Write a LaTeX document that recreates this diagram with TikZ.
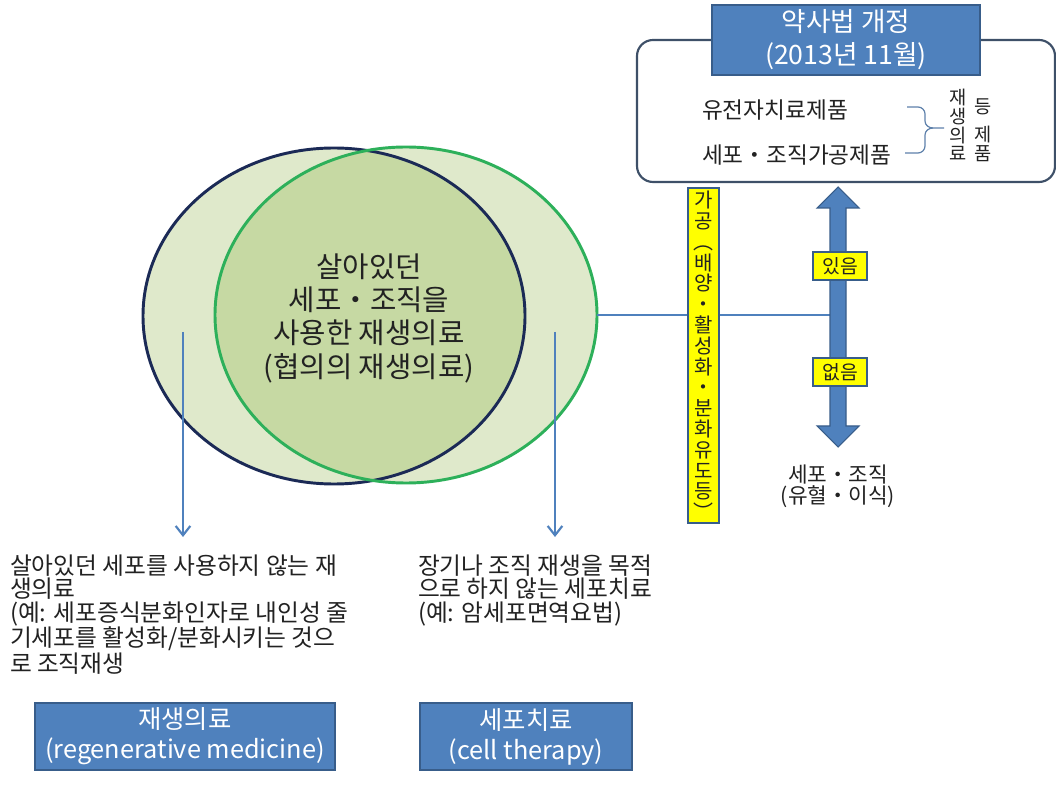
\documentclass[tikz,border=0pt]{standalone}
\usepackage{fontspec}
\setmainfont{Noto Sans CJK KR}
\usetikzlibrary{arrows.meta,shapes.geometric}
\definecolor{ofblue}{HTML}{4F81BD}
\definecolor{ofblueD}{HTML}{385D8A}
\definecolor{navy}{HTML}{1B2A56}
\definecolor{grn}{HTML}{2DB05A}
\definecolor{lfill}{HTML}{DFE9CB}
\definecolor{dfill}{HTML}{C6D9A3}
\definecolor{frame}{HTML}{3E5068}
\definecolor{yel}{HTML}{FFFF00}
\definecolor{txt}{HTML}{222222}
\begin{document}
\begin{tikzpicture}[x=0.75pt,y=-0.75pt,
  bluebox/.style={draw=ofblueD,line width=1pt,fill=ofblue,text=white,align=center,inner sep=0pt,outer sep=0pt},
  yelbox/.style={draw=ofblueD,line width=1pt,fill=yel,text=txt,inner sep=0pt,outer sep=0pt,align=center},
  plain/.style={text=txt,inner sep=0pt,outer sep=0pt},
  conn/.style={draw=ofblue,line width=2.2pt},
  downarr/.style={draw=ofblue,line width=1.6pt,-{Straight Barb[length=7pt,width=11pt,line width=1.6pt]}},
  brace/.style={draw=ofblue!70!gray,line width=0.9pt}
]
\useasboundingbox (0,0) rectangle (1056,787);
\fill[white] (0,0) rectangle (1056,787);

% ellipses
\fill[lfill] (334,316) ellipse [x radius=143.25pt, y radius=126pt];
\fill[lfill] (406,315) ellipse [x radius=143.25pt, y radius=126pt];
\begin{scope}
  \clip (334,316) ellipse [x radius=143.25pt, y radius=126pt];
  \fill[dfill] (406,315) ellipse [x radius=143.25pt, y radius=126pt];
\end{scope}
\node[ellipse,draw=navy,line width=2.2pt,minimum width=286.5pt,minimum height=252pt,inner sep=0pt,outer sep=0pt] (nE) at (334,316) {};
\node[ellipse,draw=grn,line width=2.2pt,minimum width=286.5pt,minimum height=252pt,inner sep=0pt,outer sep=0pt] (gE) at (406,315) {};

\node[plain,align=center,font=\fontsize{21.5pt}{25pt}\selectfont] (ctext) at (369,318)
  {살아있던\\세포・조직을\\사용한 재생의료\\(협의의 재생의료)};

% down arrows
\coordinate (a1s) at (183,332);
\coordinate (a1e) at (183,537);
\coordinate (a2s) at (555,332);
\coordinate (a2e) at (555,537);
\draw[downarr] (a1s) -- (a1e);
\draw[downarr] (a2s) -- (a2e);

% double arrow
\coordinate (shaftL) at (830,315);
\draw[conn] (gE.east) -- (shaftL);
\filldraw[fill=ofblue,draw=ofblueD,line width=0.8pt]
  (838,187) -- (859,208) -- (846,208) -- (846,426) -- (859,426) -- (838,447)
  -- (817,426) -- (830,426) -- (830,208) -- (817,208) -- cycle;
\node[yelbox,minimum width=40.5pt,minimum height=21pt,font=\fontsize{14.5pt}{16pt}\selectfont] (yes) at (840,266) {있음};
\node[yelbox,minimum width=40.5pt,minimum height=21pt,font=\fontsize{14.5pt}{16pt}\selectfont] (no) at (840,372) {없음};
\node[plain,align=center,font=\fontsize{16pt}{15.5pt}\selectfont] (cells) at (838,486) {세포・조직\\(유혈・이식)};

% vertical yellow box
\node[yelbox,minimum width=23.25pt,minimum height=251.25pt,font=\fontsize{15pt}{15.6pt}\selectfont] (proc) at (703.5,355.5)
  {가\\공\\︵\\배\\양\\・\\활\\성\\화\\・\\분\\화\\유\\도\\등\\︶};

% top frame
\node[draw=frame,line width=1.6pt,rounded corners=12pt,minimum width=313.5pt,minimum height=106.5pt,inner sep=0pt,outer sep=0pt,fill=white] (frm) at (846,111) {};
\node[bluebox,minimum width=201pt,minimum height=52.5pt,font=\fontsize{20pt}{24.75pt}\selectfont] (law) at (846,40) {약사법 개정\\(2013년 11월)};
\node[plain,anchor=west,font=\fontsize{17pt}{18pt}\selectfont] (gene) at (702,110) {유전자치료제품};
\node[plain,anchor=west,font=\fontsize{17pt}{18pt}\selectfont] (cellp) at (702,155) {세포・조직가공제품};
\draw[brace] (907,107) -- (918,107) to[out=0,in=90] (925,114) -- (925,121) to[out=270,in=180] (933,128) -- (944,128);
\draw[brace] (933,128) to[out=180,in=90] (925,135) -- (925,146) to[out=270,in=0] (918,153) -- (905,153);
\node[plain,align=center,font=\fontsize{14pt}{14pt}\selectfont] (regv) at (958,125) {재\\생\\의\\료};
\node[plain,font=\fontsize{14pt}{14pt}\selectfont] (deung) at (983,107) {등};
\node[plain,align=center,font=\fontsize{14pt}{14pt}\selectfont] (jepum) at (983,144) {제\\품};

% bottom texts
\node[plain,anchor=north west,align=left,font=\fontsize{17.8pt}{17.4pt}\selectfont] (t1) at (10,555)
  {살아있던 세포를 사용하지 않는 재\\생의료\\(예: 세포증식분화인자로 내인성 줄\\기세포를 활성화/분화시키는 것으\\로 조직재생};
\node[plain,anchor=north west,align=left,font=\fontsize{17.8pt}{17.4pt}\selectfont] (t2) at (418,555)
  {장기나 조직 재생을 목적\\으로 하지 않는 세포치료\\(예: 암세포면역요법)};

\node[bluebox,minimum width=225pt,minimum height=50.25pt,font=\fontsize{19pt}{22.5pt}\selectfont] (rm) at (185,736.5) {재생의료\\(regenerative medicine)};
\node[bluebox,minimum width=159pt,minimum height=50.25pt,font=\fontsize{19pt}{22.5pt}\selectfont] (ct) at (526,736.5) {세포치료\\(cell therapy)};
\end{tikzpicture}
\end{document}
